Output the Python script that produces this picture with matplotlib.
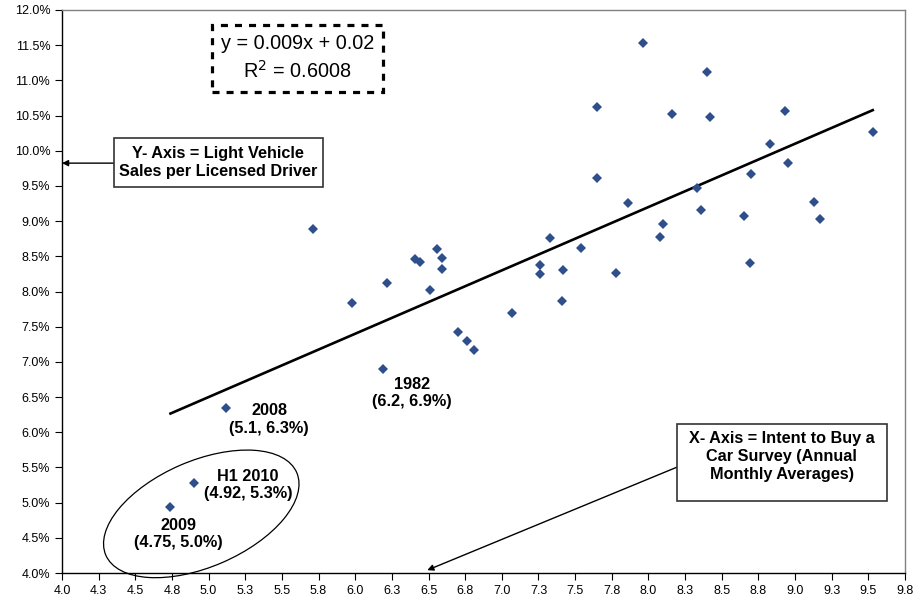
import matplotlib
matplotlib.use("Agg")
import matplotlib.pyplot as plt
import numpy as np
from matplotlib.patches import Ellipse, Rectangle
from matplotlib.transforms import ScaledTranslation
from matplotlib.ticker import PercentFormatter

plt.rcParams["font.family"] = ["Liberation Sans", "DejaVu Sans"]

# intent-to-buy index (x) vs light vehicle sales per licensed driver (y, %)
intent = [5.71, 5.98, 6.22, 6.41, 6.44, 6.56, 6.59, 6.59, 6.51, 6.70,
          6.76, 6.81, 7.07, 7.26, 7.26, 7.33, 7.41, 7.42, 7.54, 7.65,
          7.65, 7.78, 7.86, 7.96, 8.16, 8.08, 8.10, 8.33, 8.36, 8.40,
          8.42, 8.65, 8.70, 8.69, 8.83, 8.93, 8.95, 9.13, 9.17, 9.53]
sales = [8.89, 7.84, 8.12, 8.46, 8.42, 8.60, 8.47, 8.32, 8.02, 7.42,
         7.30, 7.17, 7.69, 8.38, 8.25, 8.76, 7.86, 8.30, 8.62, 10.62,
         9.61, 8.26, 9.26, 11.53, 10.52, 8.77, 8.96, 9.47, 9.16, 11.12,
         10.48, 9.07, 9.67, 8.40, 10.09, 10.56, 9.82, 9.27, 9.03, 10.26]

# highlighted years
hl_names = ["2009", "H1 2010", "2008", "1982"]
hl_intent = [4.74, 4.90, 5.12, 6.19]
hl_sales = [4.94, 5.28, 6.34, 6.90]
hl_labels = ["(4.75, 5.0%)", "(4.92, 5.3%)", "(5.1, 6.3%)", "(6.2, 6.9%)"]
hl_offsets = [(8, -27), (54, -2), (43, -11), (29, -24)]  # pixels

# trendline reported by Excel
slope, intercept = 0.009, 0.02
r_squared = 0.6008

x_ticks = np.arange(4.0, 9.76, 0.25)
x_ticklabels = ["4.0", "4.3", "4.5", "4.8", "5.0", "5.3", "5.5", "5.8", "6.0",
                "6.3", "6.5", "6.8", "7.0", "7.3", "7.5", "7.8", "8.0", "8.3",
                "8.5", "8.8", "9.0", "9.3", "9.5", "9.8"]
y_ticks = np.arange(4.0, 12.01, 0.5)

BLUE = "#2E4E8C"

fig = plt.figure(figsize=(9.13, 6.0), dpi=100)
ax = fig.add_axes([62 / 913, 27 / 600, 843 / 913, 563 / 600])

all_x = np.array(intent + hl_intent)
ax.plot(intent + hl_intent, sales + hl_sales, "D", color=BLUE, ms=5.5, mew=0,
        zorder=3)

xl = np.array([all_x.min(), all_x.max()])
ax.plot(xl, (slope * xl + intercept) * 100, color="black", lw=1.9, zorder=2)

for name, lab, xv, yv, off in zip(hl_names, hl_labels, hl_intent, hl_sales, hl_offsets):
    ax.annotate(f"{name}\n{lab}", (xv, yv), xytext=off, textcoords="offset pixels",
                ha="center", va="center", fontsize=11.7, fontweight="bold",
                linespacing=1.22)

# circle around the recent lows
ell_tr = fig.dpi_scale_trans + ScaledTranslation(4.95, 4.84, ax.transData)
ax.add_patch(Ellipse((0, 0), 2.08, 1.06, angle=23.4, transform=ell_tr,
                     fill=False, ec="black", lw=0.9, clip_on=False))

# equation box
ax.add_patch(Rectangle((0.178, 0.854), 0.203, 0.119, transform=ax.transAxes,
                       fill=False, ec="black", lw=2.3, ls=(0, (2.2, 2.2))))
ax.text(0.2795, 0.940, f"y = {slope}x + {intercept}", transform=ax.transAxes,
        ha="center", va="center", fontsize=14.3)
ax.text(0.2795, 0.892, f"R$^2$ = {r_squared}", transform=ax.transAxes,
        ha="center", va="center", fontsize=14.3)

# axis description boxes
ax.add_patch(Rectangle((0.0617, 0.686), 0.248, 0.087, transform=ax.transAxes,
                       fill=True, fc="white", ec="#333333", lw=1.2, zorder=4))
ax.text(0.185, 0.7295, "Y- Axis = Light Vehicle\nSales per Licensed Driver",
        transform=ax.transAxes, ha="center", va="center", fontsize=11.7,
        fontweight="bold", linespacing=1.22, zorder=5)
ax.annotate("", xy=(0.0, 0.728), xytext=(0.0617, 0.728),
            xycoords="axes fraction", textcoords="axes fraction",
            arrowprops=dict(arrowstyle="-|>", color="black", lw=1.0,
                            mutation_scale=9, shrinkA=0, shrinkB=0))

ax.add_patch(Rectangle((0.7295, 0.128), 0.249, 0.137, transform=ax.transAxes,
                       fill=True, fc="white", ec="#333333", lw=1.2, zorder=4))
ax.text(0.854, 0.207, "X- Axis = Intent to Buy a\nCar Survey (Annual\nMonthly Averages)",
        transform=ax.transAxes, ha="center", va="center", fontsize=11.7,
        fontweight="bold", linespacing=1.22, zorder=5)
ax.annotate("", xy=(0.4333, 0.005), xytext=(0.7295, 0.188),
            xycoords="axes fraction", textcoords="axes fraction",
            arrowprops=dict(arrowstyle="-|>", color="black", lw=1.0,
                            mutation_scale=9, shrinkA=0, shrinkB=0))

ax.set_xlim(4.0, 9.75)
ax.set_ylim(4.0, 12.0)
ax.set_xticks(x_ticks)
ax.set_xticklabels(x_ticklabels)
ax.set_yticks(y_ticks)
ax.yaxis.set_major_formatter(PercentFormatter(decimals=1))
ax.tick_params(axis="both", direction="out", length=5, width=0.8,
               labelsize=9, color="black")
ax.tick_params(axis="x", pad=4)
for s in ("top", "right"):
    ax.spines[s].set_color("#808080")
    ax.spines[s].set_linewidth(1.0)
for s in ("left", "bottom"):
    ax.spines[s].set_linewidth(1.0)

fig.savefig("out.png", dpi=100)
